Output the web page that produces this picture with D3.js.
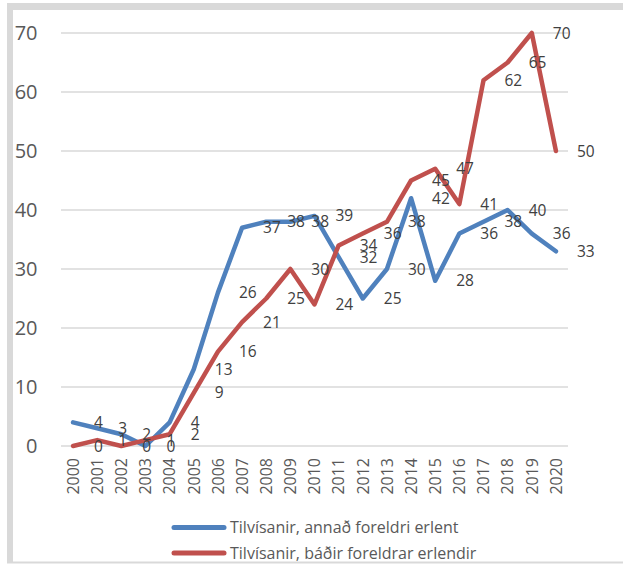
<!DOCTYPE html>
<html>
<head>
<meta charset="utf-8">
<script src="https://cdn.jsdelivr.net/npm/d3@7"></script>
<style>
  body { margin: 0; background: #fff; }
  text { font-family: "Open Sans", sans-serif; }
</style>
</head>
<body>
<svg id="chart" width="623" height="564"></svg>
<script>
var years = ["2000","2001","2002","2003","2004","2005","2006","2007","2008","2009","2010",
  "2011","2012","2013","2014","2015","2016","2017","2018","2019","2020"];
var annadErlent = [4,3,2,0,4,13,26,37,38,38,39,32,25,30,42,28,36,38,40,36,33];
var badirErlendir = [0,1,0,1,2,9,16,21,25,30,24,34,36,38,45,47,41,62,65,70,50];
var yTicks = [0,10,20,30,40,50,60,70];
var seriesNames = ["Tilvísanir, annað foreldri erlent", "Tilvísanir, báðir foreldrar erlendir"];

var svg = d3.select("#chart");
var M = { top: 33, bottom: 446, left: 61, right: 568 };

// frame
svg.append("rect").attr("x", 7).attr("y", 3).attr("width", 640).attr("height", 7).attr("fill", "#d9d9d9");
svg.append("rect").attr("x", 7).attr("y", 3).attr("width", 6).attr("height", 560).attr("fill", "#d9d9d9");
svg.append("line").attr("x1", 7).attr("x2", 623).attr("y1", 562.5).attr("y2", 562.5)
  .attr("stroke", "#d9d9d9").attr("stroke-width", 2);

var x = d3.scalePoint().domain(years).range([M.left, M.right]).padding(0.5);
var y = d3.scaleLinear().domain([0, 70]).range([M.bottom, M.top]);

// gridlines
svg.append("g").selectAll("line").data(yTicks).join("line")
  .attr("x1", M.left).attr("x2", M.right)
  .attr("y1", function (d) { return y(d); }).attr("y2", function (d) { return y(d); })
  .attr("stroke", "#d9d9d9").attr("stroke-width", 1.5);

// y labels
svg.append("g").selectAll("text").data(yTicks).join("text")
  .attr("x", 37.5).attr("y", function (d) { return y(d); })
  .attr("dy", "0.36em").attr("text-anchor", "end")
  .attr("font-size", 20).attr("fill", "#595959")
  .text(function (d) { return d; });

// x labels
svg.append("g").selectAll("text").data(years).join("text")
  .attr("transform", function (d) { return "translate(" + x(d) + ",458) rotate(-90)"; })
  .attr("dy", "0.36em").attr("text-anchor", "end")
  .attr("font-size", 16).attr("fill", "#595959")
  .text(function (d) { return d; });

var series = [
  { name: seriesNames[0], values: annadErlent, color: "#4f81bd" },
  { name: seriesNames[1], values: badirErlendir, color: "#c0504d" }
];

var line = d3.line()
  .x(function (d, i) { return x(years[i]); })
  .y(function (d) { return y(d); });

series.forEach(function (s) {
  svg.append("path")
    .attr("d", line(s.values))
    .attr("fill", "none")
    .attr("stroke", s.color)
    .attr("stroke-width", 4.5)
    .attr("stroke-linejoin", "round")
    .attr("stroke-linecap", "round");
});

// data labels (to the right of each point)
series.forEach(function (s) {
  svg.append("g").selectAll("text").data(s.values).join("text")
    .attr("x", function (d, i) { return x(years[i]) + 21; })
    .attr("y", function (d) { return y(d); })
    .attr("dy", "0.36em")
    .attr("font-size", 15.5).attr("fill", "#404040")
    .text(function (d) { return d; });
});

// legend
var legend = svg.append("g");
series.forEach(function (s, i) {
  var ly = 527.5 + i * 25.5;
  legend.append("line")
    .attr("x1", 174).attr("x2", 224).attr("y1", ly).attr("y2", ly)
    .attr("stroke", s.color).attr("stroke-width", 5).attr("stroke-linecap", "round");
  legend.append("text")
    .attr("x", 230).attr("y", ly).attr("dy", "0.36em")
    .attr("font-size", 16).attr("fill", "#595959")
    .text(s.name);
});
</script>
</body>
</html>
